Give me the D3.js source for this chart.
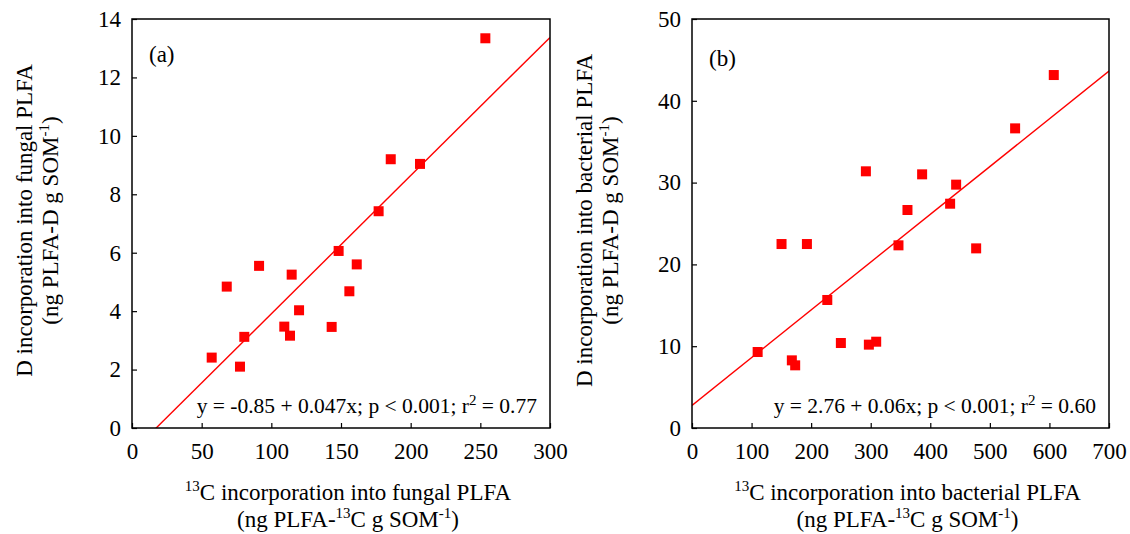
<!DOCTYPE html>
<html>
<head>
<meta charset="utf-8">
<script src="https://cdn.jsdelivr.net/npm/d3@7.9.0/dist/d3.min.js"></script>
<style>
  html, body { margin: 0; padding: 0; background: #fff; }
  svg { display: block; font-family: "Liberation Serif", "Times New Roman", serif; }
</style>
</head>
<body>
<svg id="chart" width="1130" height="534"></svg>
<script>
// Panel (a): fungal PLFA
const fungalX = [57.2, 77.5, 80.6, 68.0, 91.2, 114.6, 109.3, 113.4, 119.9, 143.3, 148.3, 161.3, 156.0, 206.7, 185.7, 177.0, 253.6];
const fungalY = [2.41, 2.10, 3.12, 4.84, 5.55, 5.25, 3.47, 3.16, 4.03, 3.46, 6.06, 5.60, 4.68, 9.04, 9.20, 7.42, 13.34];
const fungalXTicks = [0, 50, 100, 150, 200, 250, 300];
const fungalYTicks = [0, 2, 4, 6, 8, 10, 12, 14];
const fungalFit = [-0.82, 0.0473]; // intercept, slope (as drawn)

// Panel (b): bacterial PLFA
const bacterialX = [110.2, 167.6, 173.2, 150.3, 192.9, 227.1, 249.9, 296.9, 309.2, 291.9, 346.6, 361.7, 386.3, 433.3, 443.4, 477.0, 542.4, 607.3];
const bacterialY = [9.29, 8.27, 7.66, 22.49, 22.49, 15.65, 10.39, 10.19, 10.55, 31.38, 22.33, 26.65, 31.01, 27.42, 29.75, 21.96, 36.63, 43.15];
const bacterialXTicks = [0, 100, 200, 300, 400, 500, 600, 700];
const bacterialYTicks = [0, 10, 20, 30, 40, 50];
const bacterialFit = [2.76, 0.0584];

const panels = [
  {
    id: 'a', label: '(a)', left: 132, right: 550,
    xs: fungalX, ys: fungalY, xTicks: fungalXTicks, yTicks: fungalYTicks, fit: fungalFit,
    eq: ['y = -0.85 + 0.047x; p < 0.001; r', '2', ' = 0.77'],
    xTitle: 'fungal', yTitle: 'D incorporation into fungal PLFA'
  },
  {
    id: 'b', label: '(b)', left: 692, right: 1109,
    xs: bacterialX, ys: bacterialY, xTicks: bacterialXTicks, yTicks: bacterialYTicks, fit: bacterialFit,
    eq: ['y = 2.76 + 0.06x; p < 0.001; r', '2', ' = 0.60'],
    xTitle: 'bacterial', yTitle: 'D incorporation into bacterial PLFA'
  }
];

const plotTop = 19, plotBottom = 428;
const tickFont = 23, titleFont = 23, eqFont = 21.5, supFont = 15;
const fontStack = '"Liberation Serif", "Times New Roman", serif';
const svg = d3.select('#chart');

panels.forEach((p) => {
  const x = d3.scaleLinear().domain(d3.extent(p.xTicks)).range([p.left, p.right]);
  const y = d3.scaleLinear().domain(d3.extent(p.yTicks)).range([plotBottom, plotTop]);
  const g = svg.append('g');

  // clip for the regression line
  g.append('clipPath').attr('id', 'clip-' + p.id)
    .append('rect').attr('x', p.left).attr('y', plotTop)
    .attr('width', p.right - p.left).attr('height', plotBottom - plotTop);

  // axes
  const xAxis = g.append('g')
    .attr('transform', `translate(0,${plotBottom})`)
    .call(d3.axisBottom(x).tickValues(p.xTicks).tickSizeInner(-5).tickSizeOuter(0).tickPadding(15));
  const yAxis = g.append('g')
    .attr('transform', `translate(${p.left},0)`)
    .call(d3.axisLeft(y).tickValues(p.yTicks).tickSizeInner(-5).tickSizeOuter(0).tickPadding(11));
  [xAxis, yAxis].forEach((ax) => {
    ax.attr('font-family', fontStack);
    ax.select('.domain').remove();
    ax.selectAll('line').attr('stroke', '#000').attr('stroke-width', 1.2);
    ax.selectAll('text').attr('font-size', tickFont).attr('fill', '#000');
  });

  // regression line
  const [b0, b1] = p.fit;
  const [xd0, xd1] = x.domain();
  g.append('line')
    .attr('clip-path', `url(#clip-${p.id})`)
    .attr('x1', x(xd0)).attr('y1', y(b0 + b1 * xd0))
    .attr('x2', x(xd1)).attr('y2', y(b0 + b1 * xd1))
    .attr('stroke', '#ff0000').attr('stroke-width', 1.4);

  // points
  const pts = p.xs.map((v, i) => [v, p.ys[i]]);
  g.append('g').selectAll('rect')
    .data(pts)
    .join('rect')
    .attr('x', (d) => x(d[0]) - 5)
    .attr('y', (d) => y(d[1]) - 5)
    .attr('width', 10).attr('height', 10)
    .attr('fill', '#ff0000');

  // frame
  g.append('rect')
    .attr('x', p.left).attr('y', plotTop)
    .attr('width', p.right - p.left).attr('height', plotBottom - plotTop)
    .attr('fill', 'none').attr('stroke', '#000').attr('stroke-width', 1.5);

  // panel label
  g.append('text')
    .attr('x', p.left + 17).attr('y', plotTop + (p.id === 'a' ? 43 : 47))
    .attr('font-size', 23).text(p.label);

  // equation
  const eq = g.append('text')
    .attr('x', p.right - 13).attr('y', 413)
    .attr('text-anchor', 'end').attr('font-size', eqFont);
  eq.append('tspan').text(p.eq[0]);
  eq.append('tspan').attr('dy', -8).attr('font-size', supFont).text(p.eq[1]);
  eq.append('tspan').attr('dy', 8).text(p.eq[2]);

  // x title
  const cx = (p.left + p.right) / 2 + 7;
  const xt1 = g.append('text').attr('x', cx).attr('y', 500)
    .attr('text-anchor', 'middle').attr('font-size', titleFont);
  xt1.append('tspan').attr('dy', -9).attr('font-size', supFont).text('13');
  xt1.append('tspan').attr('dy', 9).text(`C incorporation into ${p.xTitle} PLFA`);

  const xt2 = g.append('text').attr('x', cx).attr('y', 527)
    .attr('text-anchor', 'middle').attr('font-size', titleFont);
  xt2.append('tspan').text('(ng PLFA-');
  xt2.append('tspan').attr('dy', -9).attr('font-size', supFont).text('13');
  xt2.append('tspan').attr('dy', 9).text('C g SOM');
  xt2.append('tspan').attr('dy', -9).attr('font-size', supFont).text('-1');
  xt2.append('tspan').attr('dy', 9).text(')');

  // y title
  const cy = (plotTop + plotBottom) / 2 - 3;
  g.append('text')
    .attr('transform', `translate(${p.left - 100},${cy}) rotate(-90)`)
    .attr('text-anchor', 'middle').attr('font-size', titleFont)
    .text(p.yTitle);
  const yt2 = g.append('text')
    .attr('transform', `translate(${p.left - 74},${cy}) rotate(-90)`)
    .attr('text-anchor', 'middle').attr('font-size', titleFont);
  yt2.append('tspan').text('(ng PLFA-D g SOM');
  yt2.append('tspan').attr('dy', -9).attr('font-size', supFont).text('-1');
  yt2.append('tspan').attr('dy', 9).text(')');
});
</script>
</body>
</html>
